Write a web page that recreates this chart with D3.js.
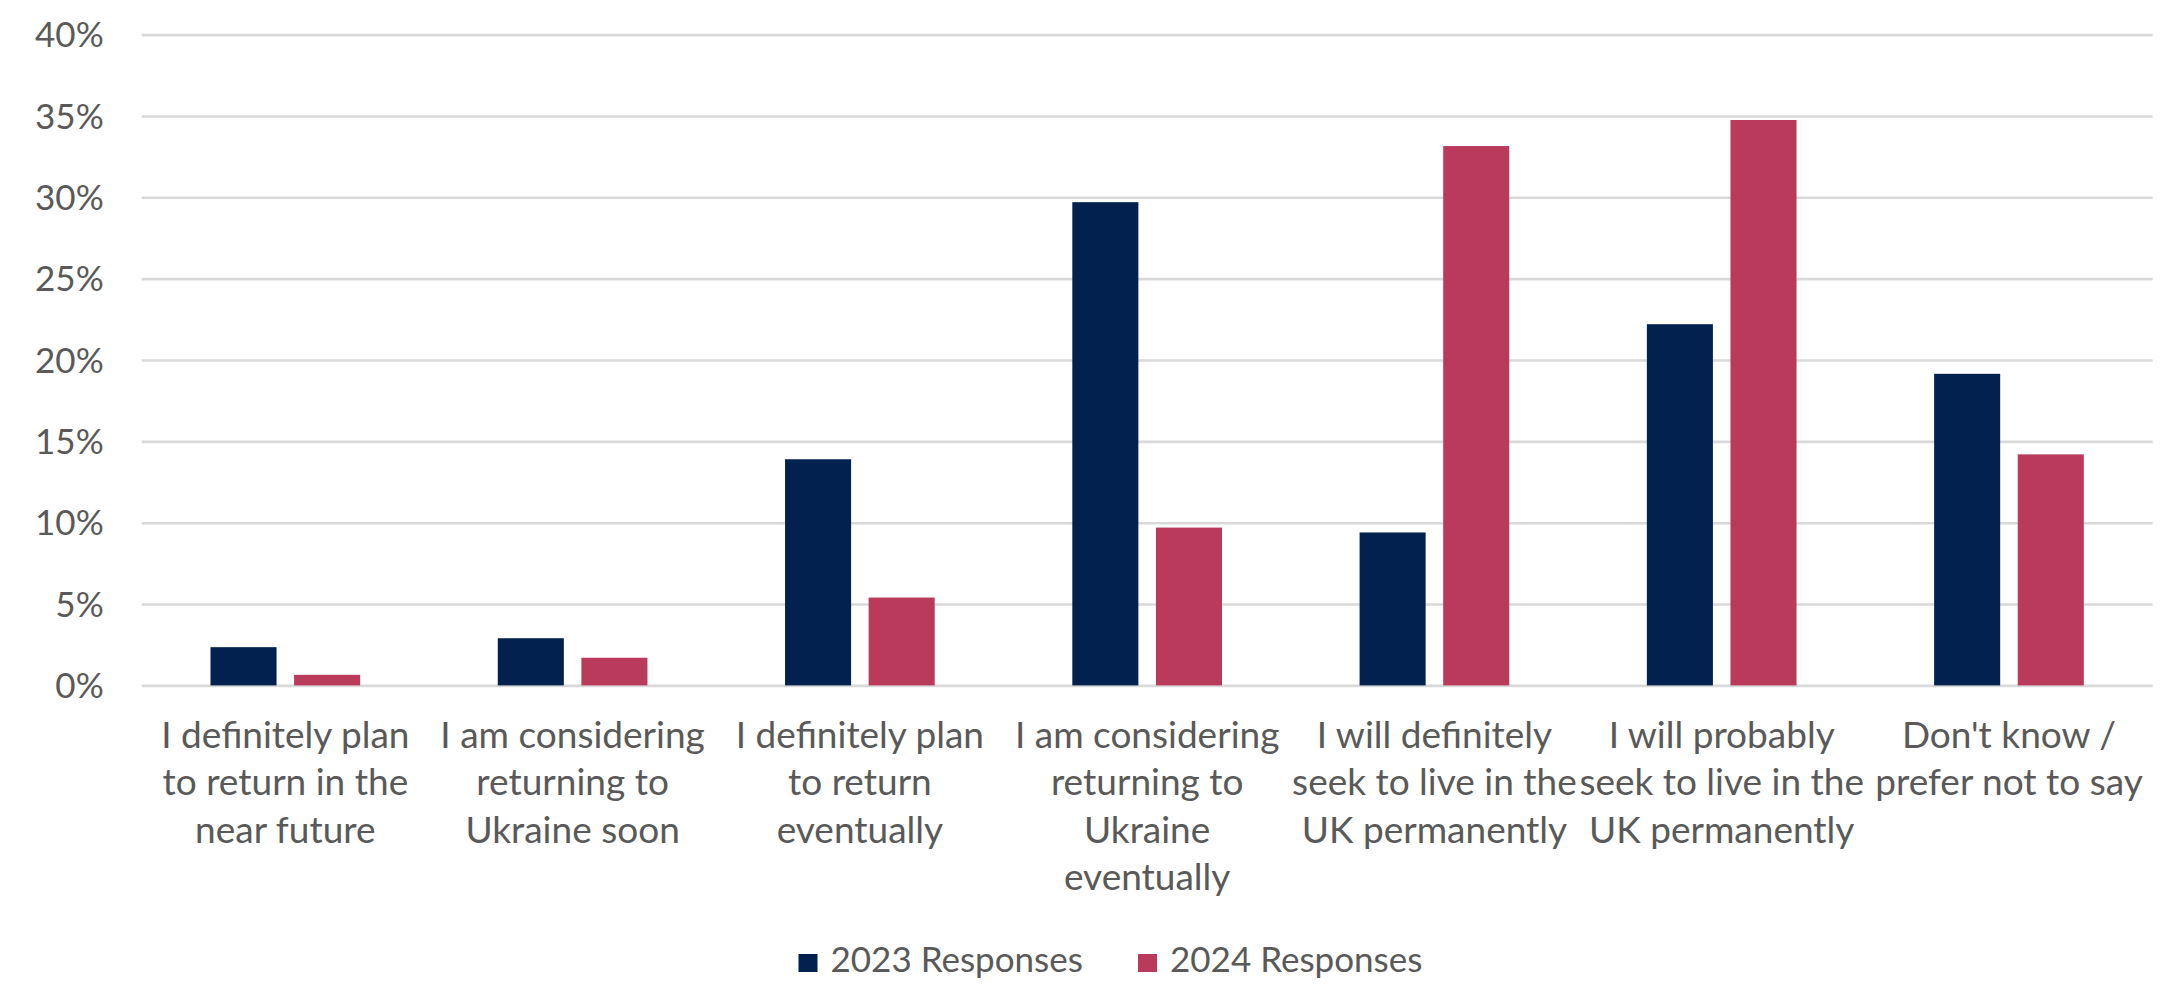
<!DOCTYPE html>
<html>
<head>
<meta charset="utf-8">
<script src="https://cdn.jsdelivr.net/npm/d3@7/dist/d3.min.js"></script>
<style>
  html, body { margin: 0; padding: 0; background: #ffffff; }
  svg { display: block; }
  text { font-family: Lato, "Open Sans", sans-serif; fill: #595959; }
</style>
</head>
<body>
<svg id="chart" width="2171" height="990"></svg>
<script>
// ---- Data ----
const categories = [
  "I definitely plan to return in the near future",
  "I am considering returning to Ukraine soon",
  "I definitely plan to return eventually",
  "I am considering returning to Ukraine eventually",
  "I will definitely seek to live in the UK permanently",
  "I will probably seek to live in the UK permanently",
  "Don't know / prefer not to say"
];
const categoryLines = [
  ["I definitely plan", "to return in the", "near future"],
  ["I am considering", "returning to", "Ukraine soon"],
  ["I definitely plan", "to return", "eventually"],
  ["I am considering", "returning to", "Ukraine", "eventually"],
  ["I will definitely", "seek to live in the", "UK permanently"],
  ["I will probably", "seek to live in the", "UK permanently"],
  ["Don't know /", "prefer not to say"]
];
const seriesNames = ["2023 Responses", "2024 Responses"];
const responses2023 = [2.35, 2.9, 13.9, 29.7, 9.4, 22.2, 19.15];
const responses2024 = [0.65, 1.7, 5.4, 9.7, 33.15, 34.75, 14.2];
const yTicks = [0, 5, 10, 15, 20, 25, 30, 35, 40];
const colors = ["#03214f", "#ba3a5c"];

// ---- Layout ----
const W = 2171, H = 990;
const margin = { top: 34.6, right: 18.4, bottom: 304.6, left: 141.7 };
const width = W - margin.left - margin.right;
const height = H - margin.top - margin.bottom;

const svg = d3.select("#chart");
const g = svg.append("g").attr("transform", `translate(${margin.left},${margin.top})`);

const x0 = d3.scaleBand().domain(categories).range([0, width]).paddingInner(0.479).paddingOuter(0.2395);
const x1 = d3.scaleBand().domain(seriesNames).range([0, x0.bandwidth()]).paddingInner(0.21).paddingOuter(0);
const y = d3.scaleLinear().domain([0, 40]).range([height, 0]);
const color = d3.scaleOrdinal().domain(seriesNames).range(colors);

// Y axis with gridlines
const yAxis = g.append("g")
  .call(d3.axisLeft(y).tickValues(yTicks).tickSize(-width).tickPadding(38).tickFormat(d => d + "%"));
yAxis.select(".domain").remove();
yAxis.selectAll(".tick line").attr("stroke", "#d9d9d9").attr("stroke-width", 2.6);
yAxis.selectAll(".tick text").attr("font-size", 35).attr("fill", "#595959")
  .style("font-family", "Lato, sans-serif").attr("dy", "0.35em");

// Bars
const rows = categories.map((c, i) => ({ cat: c, vals: [responses2023[i], responses2024[i]] }));
const groups = g.append("g").selectAll("g").data(rows).join("g")
  .attr("transform", d => `translate(${x0(d.cat)},0)`);
groups.selectAll("rect").data(d => d.vals.map((v, k) => ({ key: seriesNames[k], v })))
  .join("rect")
  .attr("x", d => x1(d.key))
  .attr("y", d => y(d.v))
  .attr("width", x1.bandwidth())
  .attr("height", d => y(0) - y(d.v))
  .attr("fill", d => color(d.key));

// X axis category labels
const xAxis = g.append("g").attr("transform", `translate(0,${height})`)
  .call(d3.axisBottom(x0).tickSize(0).tickFormat(""));
xAxis.select(".domain").remove();
xAxis.selectAll(".tick").each(function(d, i) {
  const t = d3.select(this).append("text")
    .attr("text-anchor", "middle")
    .attr("font-size", 37)
    .attr("fill", "#595959")
    .style("font-family", "Lato, sans-serif");
  categoryLines[i].forEach((line, j) => {
    t.append("tspan").attr("x", 0).attr("y", 62.6 + j * 47.5).text(line);
  });
});

// Legend
const legendX = [798.5, 1138];
const legend = svg.append("g");
seriesNames.forEach((s, k) => {
  const lg = legend.append("g").attr("transform", `translate(${legendX[k]},972)`);
  lg.append("rect").attr("x", 0).attr("y", -18).attr("width", 19).attr("height", 18).attr("fill", colors[k]);
  lg.append("text").attr("x", 32).attr("y", 0).attr("font-size", 35)
    .attr("fill", "#595959").style("font-family", "Lato, sans-serif").text(s);
});
</script>
</body>
</html>
